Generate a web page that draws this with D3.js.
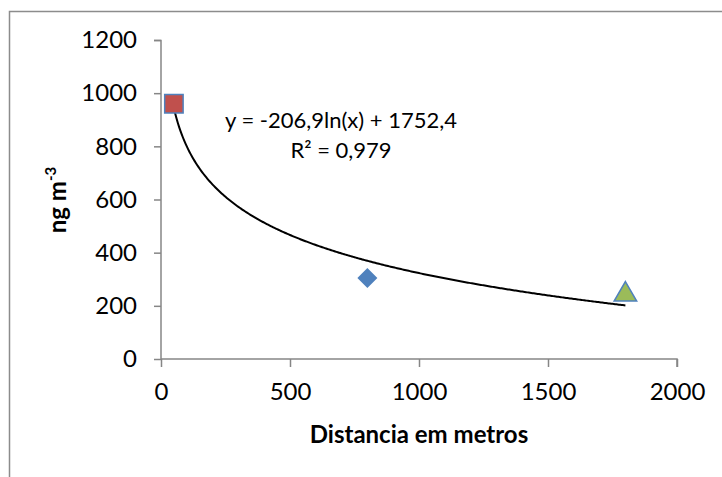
<!DOCTYPE html>
<html>
<head>
<meta charset="utf-8">
<script src="https://cdn.jsdelivr.net/npm/d3@7"></script>
<style>
  body { margin: 0; background: #fff; }
  text { font-family: Lato, "Open Sans", sans-serif; fill: #000; }
</style>
</head>
<body>
<svg id="chart" width="722" height="477"></svg>
<script>
// data
var distances = [50, 800, 1800];
var values = [960, 305, 250];
var markerShapes = ["square", "diamond", "triangle"];
var markerFills = ["#C0504D", "#4F81BD", "#9BBB59"];
var xTicks = [0, 500, 1000, 1500, 2000];
var yTicks = [0, 200, 400, 600, 800, 1000, 1200];
// log trendline from the label
var trendA = -206.9, trendB = 1752.4;
var trendLabel = "y = -206,9ln(x) + 1752,4";
var r2Label = "R\u00B2 = 0,979";

var svg = d3.select("#chart");

// outer frame (only top and left edges show)
svg.append("path")
    .attr("d", "M9.5,477 L9.5,11.5 L722,11.5")
    .attr("fill", "none")
    .attr("stroke", "#8c8c8c")
    .attr("stroke-width", 1.5);

var x = d3.scaleLinear().domain([0, 2000]).range([161, 677]);
var y = d3.scaleLinear().domain([0, 1200]).range([359, 40]);

// y axis
var yAxis = svg.append("g")
    .attr("transform", "translate(161,0)")
    .call(d3.axisLeft(y).tickValues(yTicks).tickFormat(d3.format("d"))
        .tickSize(7).tickPadding(17).tickSizeOuter(0));
// x axis
var xAxis = svg.append("g")
    .attr("transform", "translate(0,359)")
    .call(d3.axisBottom(x).tickValues(xTicks).tickFormat(d3.format("d"))
        .tickSize(8).tickPadding(16).tickSizeOuter(0));

[yAxis, xAxis].forEach(function (ax) {
    ax.selectAll("path, line").attr("stroke", "#868686").attr("stroke-width", 1.5);
    ax.selectAll("text").style("font-size", "24px").attr("fill", "#000")
        .style("font-family", "Lato, 'Open Sans', sans-serif");
});
yAxis.select(".domain").attr("d", "M-7,40.5H0V359");
xAxis.select(".domain").attr("d", "M161,0H677V8");

// trendline
var trendPts = d3.range(distances[0], distances[distances.length - 1] + 1, 5).map(function (d) {
    return [d, trendA * Math.log(d) + trendB];
});
svg.append("path")
    .datum(trendPts)
    .attr("fill", "none")
    .attr("stroke", "#000")
    .attr("stroke-width", 2)
    .attr("d", d3.line().x(function (d) { return x(d[0]); }).y(function (d) { return y(d[1]); }));

// markers
var symbolSizes = { square: 340, diamond: 200, triangle: 220 };
distances.forEach(function (d, i) {
    var shape = markerShapes[i];
    var cy = y(values[i]);
    var type = shape == "triangle" ? d3.symbolTriangle : d3.symbolSquare;
    var rot = shape == "diamond" ? " rotate(45)" : "";
    if (shape == "triangle") cy += 2;
    svg.append("path")
        .attr("d", d3.symbol().type(type).size(symbolSizes[shape])())
        .attr("transform", "translate(" + x(d) + "," + cy + ")" + rot)
        .attr("fill", markerFills[i])
        .attr("stroke", shape == "diamond" ? "none" : "#4F81BD")
        .attr("stroke-width", 1.5);
});

// trendline label
svg.append("text")
    .attr("x", 341).attr("y", 128)
    .attr("text-anchor", "middle")
    .style("font-size", "22px")
    .text(trendLabel);
svg.append("text")
    .attr("x", 341).attr("y", 158)
    .attr("text-anchor", "middle")
    .style("font-size", "22px")
    .text(r2Label);

// axis titles
svg.append("text")
    .attr("x", 419).attr("y", 443)
    .attr("text-anchor", "middle")
    .style("font-size", "24px")
    .style("font-weight", "bold")
    .text("Distancia em metros");

var yt = svg.append("text")
    .attr("transform", "translate(66,200) rotate(-90)")
    .attr("text-anchor", "middle")
    .style("font-size", "24px")
    .style("font-weight", "bold");
yt.append("tspan").text("ng m");
yt.append("tspan").attr("dy", -10).style("font-size", "15px").text("-3");
</script>
</body>
</html>
